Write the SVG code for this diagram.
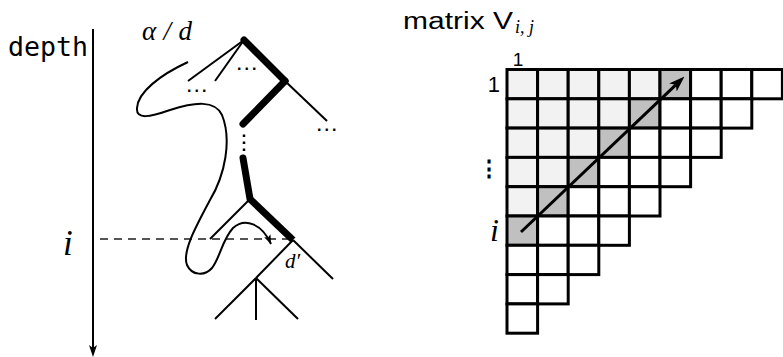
<svg xmlns="http://www.w3.org/2000/svg" width="783" height="357" viewBox="0 0 783 357">
<style>
.thin{stroke:#000;stroke-width:2;fill:none;stroke-linecap:butt}
.thick{stroke:#000;stroke-width:7;fill:none;stroke-linecap:round;stroke-linejoin:round}
.math{font-family:"Liberation Serif","DejaVu Serif",serif;font-style:italic;fill:#000}
.sans{font-family:"Liberation Sans","Noto Sans",sans-serif;fill:#000}
.dots{font-family:"Liberation Sans",sans-serif;font-size:16px;font-weight:bold;letter-spacing:3px;fill:#000}
.L{fill:#f2f2f2;stroke:#000;stroke-width:3}
.D{fill:#c0c0c0;stroke:#000;stroke-width:3}
.W{fill:#fff;stroke:#000;stroke-width:3}
</style>
<defs>
<marker id="ah" viewBox="0 0 16 11" refX="4" refY="5.5" markerWidth="16" markerHeight="11" orient="auto" markerUnits="userSpaceOnUse"><path d="M0,0 L16,5.5 L0,11 L4,5.5 Z" fill="#000"/></marker>
<marker id="ah2" viewBox="0 0 12 8" refX="3" refY="4" markerWidth="12" markerHeight="8" orient="auto" markerUnits="userSpaceOnUse"><path d="M0,0 L12,4 L0,8 L3,4 Z" fill="#000"/></marker>
<marker id="ah3" viewBox="0 0 9 7" refX="9" refY="3.5" markerWidth="9" markerHeight="7" orient="auto" markerUnits="userSpaceOnUse"><path d="M0,0 L9,3.5 L0,7 L2,3.5 Z" fill="#000"/></marker>
</defs>
<rect width="783" height="357" fill="#fff"/>

<g id="depth-axis">
<text x="8" y="56" font-family="DejaVu Sans Mono,Liberation Mono,monospace" font-size="26" textLength="80" lengthAdjust="spacingAndGlyphs">depth</text>
<line x1="93" y1="29" x2="93" y2="348" stroke="#000" stroke-width="2" marker-end="url(#ah2)"/>
<text class="math" x="63" y="255" font-size="35">i</text>
</g>

<text id="label-alpha" class="math" x="142" y="40" font-size="27" textLength="50" lengthAdjust="spacing">α/d</text>

<g id="connectors">
<line x1="100" y1="239" x2="290" y2="239" stroke="#555" stroke-width="2" stroke-dasharray="8 6"/>
<path d="M188,62 C160,75 138,92 137,108 C136,120 150,117 170,110 C195,102 215,100 222,115 C232,140 225,175 210,200 C195,228 182,252 187,265 C192,276 205,276 212,268 C220,258 222,240 233,228 C245,217 262,224 271,244" fill="none" stroke="#000" stroke-width="2" marker-end="url(#ah3)"/>
</g>

<g id="tree">
<line class="thick" x1="244" y1="40" x2="285" y2="81"/>
<line class="thick" x1="285" y1="81" x2="243" y2="124"/>
<line class="thin" x1="285" y1="81" x2="327" y2="121"/>
<line class="thin" x1="244" y1="40" x2="188" y2="81"/>
<line class="thin" x1="244" y1="40" x2="215" y2="81"/>
<text class="dots" x="237" y="70">...</text>
<text class="dots" x="187" y="92">...</text>
<text class="dots" x="317" y="131">...</text>
<line x1="244" y1="134.5" x2="244" y2="153" stroke="#000" stroke-width="2.5" stroke-dasharray="2.5 4.5"/>
<line class="thick" x1="243" y1="158" x2="250" y2="199"/>
<line class="thick" x1="250" y1="199" x2="293" y2="240" style="stroke-linecap:butt"/>
<line class="thin" x1="250" y1="199" x2="210" y2="239"/>
<line class="thin" x1="293" y1="240" x2="333" y2="279"/>
<line class="thin" x1="293" y1="240" x2="256" y2="278"/>
<line class="thin" x1="256" y1="278" x2="215" y2="319"/>
<line class="thin" x1="256" y1="278" x2="256" y2="320"/>
<line class="thin" x1="256" y1="278" x2="298" y2="319"/>
<text class="math" x="285" y="268" font-size="21">d′</text>
</g>

<g id="matrix-title">
<text class="sans" x="403" y="29" font-size="23" textLength="110" lengthAdjust="spacingAndGlyphs">matrix V</text>
<text class="math" x="515" y="33" font-size="18">i, j</text>
</g>

<g id="matrix">
<rect class="L" x="507" y="69.5" width="30.6" height="29.3"/>
<rect class="L" x="537.6" y="69.5" width="30.6" height="29.3"/>
<rect class="L" x="568.2" y="69.5" width="30.6" height="29.3"/>
<rect class="L" x="598.8" y="69.5" width="30.6" height="29.3"/>
<rect class="L" x="629.4" y="69.5" width="30.6" height="29.3"/>
<rect class="D" x="660" y="69.5" width="30.6" height="29.3"/>
<rect class="W" x="690.6" y="69.5" width="30.6" height="29.3"/>
<rect class="W" x="721.2" y="69.5" width="30.6" height="29.3"/>
<rect class="W" x="751.8" y="69.5" width="30.6" height="29.3"/>

<rect class="L" x="507" y="98.8" width="30.6" height="29.3"/>
<rect class="L" x="537.6" y="98.8" width="30.6" height="29.3"/>
<rect class="L" x="568.2" y="98.8" width="30.6" height="29.3"/>
<rect class="L" x="598.8" y="98.8" width="30.6" height="29.3"/>
<rect class="D" x="629.4" y="98.8" width="30.6" height="29.3"/>
<rect class="W" x="660" y="98.8" width="30.6" height="29.3"/>
<rect class="W" x="690.6" y="98.8" width="30.6" height="29.3"/>
<rect class="W" x="721.2" y="98.8" width="30.6" height="29.3"/>

<rect class="L" x="507" y="128.1" width="30.6" height="29.3"/>
<rect class="L" x="537.6" y="128.1" width="30.6" height="29.3"/>
<rect class="L" x="568.2" y="128.1" width="30.6" height="29.3"/>
<rect class="D" x="598.8" y="128.1" width="30.6" height="29.3"/>
<rect class="W" x="629.4" y="128.1" width="30.6" height="29.3"/>
<rect class="W" x="660" y="128.1" width="30.6" height="29.3"/>
<rect class="W" x="690.6" y="128.1" width="30.6" height="29.3"/>

<rect class="L" x="507" y="157.4" width="30.6" height="29.3"/>
<rect class="L" x="537.6" y="157.4" width="30.6" height="29.3"/>
<rect class="D" x="568.2" y="157.4" width="30.6" height="29.3"/>
<rect class="W" x="598.8" y="157.4" width="30.6" height="29.3"/>
<rect class="W" x="629.4" y="157.4" width="30.6" height="29.3"/>
<rect class="W" x="660" y="157.4" width="30.6" height="29.3"/>

<rect class="L" x="507" y="186.7" width="30.6" height="29.3"/>
<rect class="D" x="537.6" y="186.7" width="30.6" height="29.3"/>
<rect class="W" x="568.2" y="186.7" width="30.6" height="29.3"/>
<rect class="W" x="598.8" y="186.7" width="30.6" height="29.3"/>
<rect class="W" x="629.4" y="186.7" width="30.6" height="29.3"/>

<rect class="D" x="507" y="216" width="30.6" height="29.3"/>
<rect class="W" x="537.6" y="216" width="30.6" height="29.3"/>
<rect class="W" x="568.2" y="216" width="30.6" height="29.3"/>
<rect class="W" x="598.8" y="216" width="30.6" height="29.3"/>

<rect class="W" x="507" y="245.3" width="30.6" height="29.3"/>
<rect class="W" x="537.6" y="245.3" width="30.6" height="29.3"/>
<rect class="W" x="568.2" y="245.3" width="30.6" height="29.3"/>

<rect class="W" x="507" y="274.6" width="30.6" height="29.3"/>
<rect class="W" x="537.6" y="274.6" width="30.6" height="29.3"/>

<rect class="W" x="507" y="303.9" width="30.6" height="29.3"/>

<line x1="521" y1="232" x2="675.8" y2="84.8" stroke="#000" stroke-width="3" marker-end="url(#ah)"/>

<text class="sans" x="518" y="66" font-size="19" text-anchor="middle">1</text>
<text class="sans" x="500" y="92" font-size="22" text-anchor="end">1</text>
<text class="sans" x="500" y="176" font-size="22" text-anchor="end" font-weight="bold">⋮</text>
<text class="math" x="490" y="241" font-size="32">i</text>
</g>
</svg>
